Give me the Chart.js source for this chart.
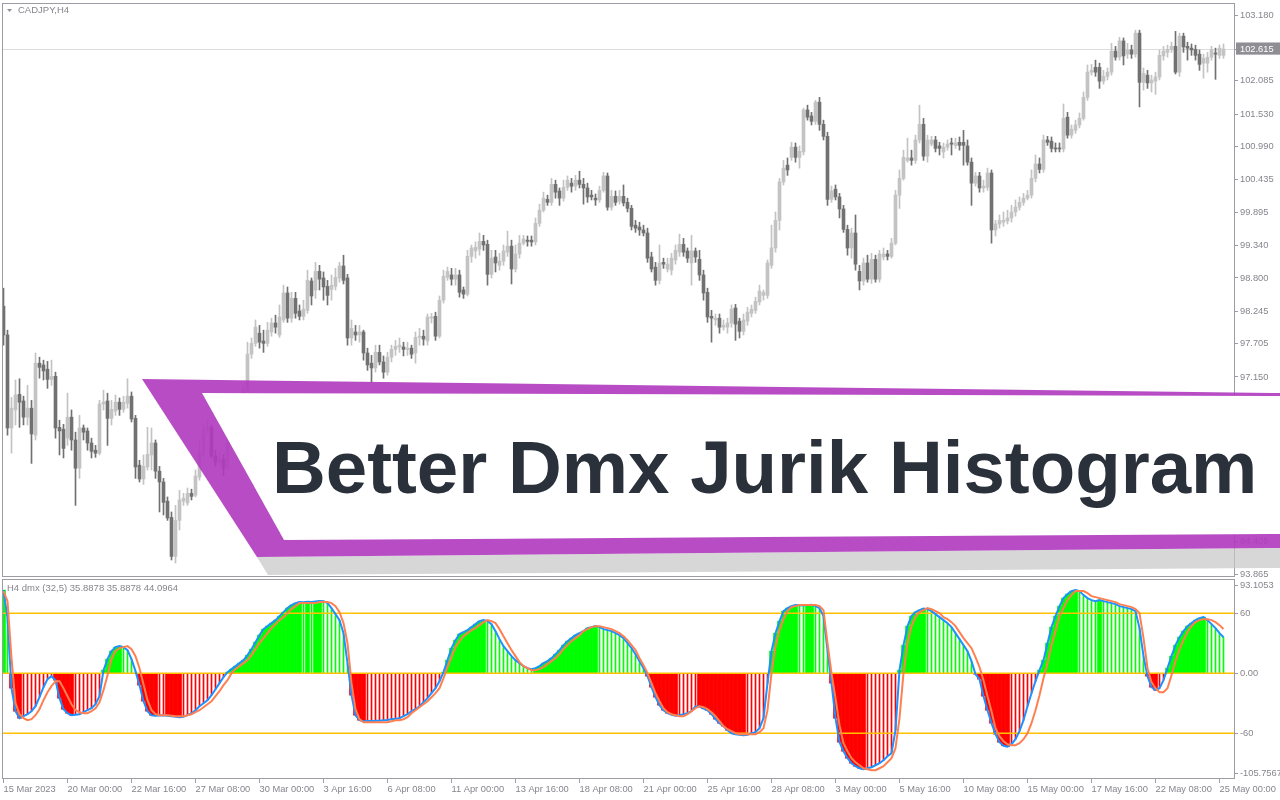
<!DOCTYPE html>
<html><head><meta charset="utf-8">
<script src="https://cdn.jsdelivr.net/npm/chart.js@4.4.1/dist/chart.umd.min.js"></script>
<style>
html,body{margin:0;padding:0;background:#fff;width:1280px;height:800px;overflow:hidden;font-family:"Liberation Sans",Arial,sans-serif;}
canvas{position:absolute;left:0;}
#c1{top:0;}
#c2{top:578px;}
.frame{position:absolute;border:1px solid #9c9ca4;box-sizing:border-box;pointer-events:none;}
#f1{left:2px;top:3px;width:1233px;height:574px;}
#f2{left:2px;top:579px;width:1233px;height:200px;}
#banner{position:absolute;left:0;top:0;pointer-events:none;}
#title{position:absolute;left:272px;top:431px;font:bold 74.5px/74.5px "Liberation Sans",Arial,sans-serif;color:#2b313b;white-space:nowrap;}
.lbl{position:absolute;font-size:9.5px;color:#85858d;white-space:nowrap;line-height:12px;}
</style></head>
<body>
<canvas id="c1" width="1280" height="578"></canvas>
<canvas id="c2" width="1280" height="222"></canvas>
<div class="frame" id="f1"></div>
<div class="frame" id="f2"></div>
<svg id="banner" width="1280" height="800">
  <polygon points="7,9 12,9 9.5,12" fill="#909098"/>
  <polygon points="257,557 1280,548 1280,568 268,575" fill="rgba(200,200,200,0.72)"/>
  <polygon points="142,379 1280,393 1280,548 257,557" fill="rgba(176,58,190,0.91)"/>
  <polygon points="202,393 1280,396 1280,534 284,540" fill="#ffffff"/>
</svg>
<div class="lbl" style="left:18px;top:4px;">CADJPY,H4</div>
<div class="lbl" style="left:7px;top:582px;">H4 dmx (32,5) 35.8878 35.8878 44.0964</div>
<div id="title">Better Dmx Jurik Histogram</div>
<script>
// ---------- DATA (CADJPY H4, 306 bars) ----------
const opens = [98.33,97.85,96.30,96.60,96.86,96.75,96.48,96.63,96.18,97.38,
97.35,97.28,97.11,97.16,96.31,96.28,96.13,96.48,96.10,95.63,
96.30,96.25,96.05,95.93,95.88,96.70,96.75,96.46,96.58,96.73,
96.61,96.71,96.83,96.46,95.68,95.45,95.65,95.85,96.05,95.58,
95.40,95.08,94.81,94.16,94.76,95.08,95.05,95.21,95.18,95.48,
95.88,96.26,96.31,95.83,95.73,95.78,95.63,96.01,96.26,96.46,
96.40,96.93,97.53,97.71,97.88,97.75,97.71,97.90,98.05,97.85,
98.10,98.55,98.13,98.46,98.25,98.16,98.26,98.75,98.60,98.91,
98.80,98.66,98.61,98.66,98.80,99.00,98.80,97.80,97.90,97.85,
97.90,97.55,97.38,97.30,97.56,97.40,97.23,97.48,97.61,97.65,
97.65,97.61,97.63,97.55,97.81,97.83,97.75,98.13,98.16,97.83,
98.43,98.81,98.85,98.78,98.85,98.60,98.53,99.16,99.25,99.28,
99.41,99.36,98.86,99.15,99.01,99.08,99.23,99.33,98.95,99.20,
99.38,99.43,99.43,99.40,99.71,99.93,100.11,100.06,100.36,100.25,
100.13,100.31,100.38,100.33,100.43,100.36,100.30,100.18,100.13,100.10,
100.26,100.50,99.98,100.16,100.08,100.16,100.06,99.96,99.68,99.65,
99.60,99.55,99.15,98.98,98.76,99.06,98.95,98.93,99.10,99.23,
99.36,99.25,99.05,99.25,99.11,98.85,98.56,98.16,98.10,98.13,
97.98,97.98,98.05,98.30,98.08,97.91,98.08,98.21,98.26,98.40,
98.51,98.51,99.01,99.30,99.76,100.40,100.68,100.81,100.98,100.81,
100.90,101.60,101.50,101.41,101.73,101.36,101.16,100.11,100.28,100.15,
99.95,99.61,99.30,99.55,98.91,98.75,99.05,98.78,99.11,98.78,
99.15,99.20,99.16,99.38,100.18,100.46,100.76,100.80,100.76,101.10,
101.36,100.83,101.03,101.10,101.00,100.90,100.98,101.05,101.01,101.06,
101.06,101.00,100.73,100.38,100.50,100.30,100.31,100.55,99.60,99.70,
99.73,99.75,99.80,99.90,99.98,100.06,100.13,100.18,100.46,100.70,
100.61,101.10,101.08,100.96,100.96,100.95,101.48,101.18,101.26,101.35,
101.46,101.81,102.23,102.31,102.31,102.08,102.16,102.23,102.58,102.48,
102.75,102.53,102.60,102.53,102.88,102.06,102.18,102.05,102.08,102.15,
102.50,102.56,102.61,102.66,102.23,102.83,102.66,102.63,102.61,102.53,
102.38,102.38,102.48,102.55,102.51,102.51];
const highs = [98.63,97.93,96.81,97.10,97.12,96.83,97.01,96.76,97.55,97.48,
97.43,97.41,97.43,97.23,96.43,96.36,96.88,96.60,96.23,96.51,
96.35,96.30,96.13,96.01,96.76,96.93,96.88,96.76,96.85,96.80,
96.83,97.12,96.90,96.51,95.76,95.85,96.31,96.30,96.10,95.66,
95.46,95.15,94.90,95.01,95.26,95.21,95.30,95.28,95.60,96.10,
96.35,96.43,96.35,95.93,95.90,95.85,96.26,96.35,96.60,96.63,
97.01,97.73,97.80,98.10,98.01,97.93,98.06,98.13,98.18,98.35,
98.68,98.65,98.56,98.56,98.35,98.43,98.93,98.80,99.06,99.01,
98.90,98.76,98.85,98.96,99.06,99.18,98.86,98.10,98.01,98.01,
97.93,97.63,97.51,97.68,97.68,97.50,97.56,97.68,97.76,97.80,
97.73,97.73,97.68,97.90,97.96,97.93,98.20,98.21,98.23,98.50,
98.93,98.98,98.96,98.96,98.93,98.65,99.26,99.35,99.40,99.55,
99.51,99.43,99.26,99.26,99.21,99.35,99.58,99.43,99.35,99.51,
99.51,99.50,99.50,99.80,100.03,100.23,100.18,100.46,100.43,100.30,
100.43,100.50,100.46,100.51,100.58,100.46,100.38,100.26,100.20,100.33,
100.56,100.55,100.26,100.25,100.26,100.35,100.13,100.01,99.76,99.73,
99.68,99.63,99.23,99.06,99.35,99.13,99.13,99.21,99.35,99.53,
99.46,99.30,99.51,99.30,99.26,98.93,98.63,98.26,98.20,98.20,
98.10,98.13,98.35,98.36,98.13,98.20,98.31,98.35,98.48,98.68,
98.60,99.10,99.68,99.90,100.46,100.76,100.80,101.06,101.05,101.00,
101.63,101.68,101.56,101.76,101.81,101.43,101.23,100.33,100.35,100.21,
100.01,99.68,99.63,99.85,99.01,99.13,99.18,99.21,99.18,99.26,
99.30,99.26,99.46,100.26,100.60,100.93,101.13,100.93,101.18,101.68,
101.46,101.18,101.16,101.16,101.06,101.05,101.10,101.13,101.13,101.15,
101.26,101.10,100.80,100.56,100.56,100.43,100.63,100.60,99.76,99.85,
99.90,99.93,100.01,100.10,100.15,100.21,100.26,100.60,100.85,100.80,
101.18,101.16,101.15,101.05,101.05,101.70,101.56,101.35,101.43,101.55,
101.90,102.35,102.36,102.43,102.38,102.26,102.30,102.71,102.66,102.81,
102.80,102.71,102.68,102.93,102.93,102.30,102.26,102.18,102.23,102.60,
102.66,102.68,102.73,102.91,102.88,102.88,102.73,102.70,102.68,102.60,
102.53,102.56,102.66,102.63,102.68,102.70];
const lows = [97.68,96.18,95.88,96.35,96.31,96.35,96.35,95.71,96.10,97.13,
97.10,96.96,97.01,96.13,95.85,95.80,96.01,95.93,95.01,95.46,
96.10,95.93,95.80,95.81,95.85,96.60,96.01,96.35,96.51,96.51,
96.56,96.63,96.40,95.46,95.40,95.36,95.60,95.60,95.46,94.90,
94.85,94.76,94.10,94.05,94.60,95.01,95.01,95.10,95.15,95.43,
95.83,96.21,95.80,95.66,95.68,95.51,95.60,95.93,96.18,96.30,
96.35,96.90,97.46,97.66,97.63,97.56,97.66,97.83,97.88,97.81,
98.06,98.06,98.06,98.13,98.10,98.10,98.21,98.35,98.46,98.60,
98.43,98.35,98.43,98.60,98.73,98.70,97.68,97.68,97.76,97.73,
97.43,97.26,97.06,97.23,97.35,97.13,97.18,97.40,97.51,97.56,
97.50,97.51,97.46,97.38,97.68,97.68,97.68,98.05,97.76,97.80,
98.38,98.76,98.68,98.68,98.48,98.46,98.50,99.06,99.13,99.18,
99.26,98.68,98.80,98.90,98.93,99.01,99.16,98.70,98.90,99.13,
99.35,99.33,99.33,99.35,99.66,99.90,100.01,100.01,100.13,100.01,
100.08,100.26,100.23,100.26,100.30,100.03,100.06,100.10,100.01,100.06,
100.23,99.93,99.93,100.01,100.03,100.00,99.90,99.60,99.56,99.51,
99.50,99.06,98.90,98.68,98.70,98.96,98.90,98.85,99.03,99.16,
99.16,99.06,98.68,99.06,98.76,98.43,98.06,97.73,98.01,97.88,
97.93,97.88,97.98,97.76,97.80,97.85,98.01,98.15,98.21,98.35,
98.43,98.46,98.96,99.23,99.60,100.35,100.51,100.76,100.73,100.63,
100.85,101.43,101.35,101.36,101.26,101.10,100.01,100.06,100.10,99.80,
99.56,99.18,99.13,98.93,98.60,98.68,98.73,98.71,98.73,98.73,
99.10,99.10,99.13,99.35,99.96,100.43,100.73,100.68,100.71,101.05,
100.76,100.73,101.00,100.90,100.85,100.80,100.93,100.85,100.96,100.93,
100.68,100.68,100.01,100.33,100.23,100.23,100.26,99.38,99.50,99.63,
99.66,99.70,99.73,99.83,99.93,100.01,100.10,100.13,100.40,100.55,
100.56,101.01,100.90,100.90,100.90,100.90,101.13,101.13,101.21,101.30,
101.43,101.76,102.18,102.16,101.96,102.03,102.10,102.18,102.43,102.43,
102.35,102.46,102.46,102.48,101.65,101.93,101.96,101.90,101.86,102.10,
102.43,102.48,102.56,102.20,102.16,102.56,102.43,102.51,102.43,102.26,
102.13,102.23,102.43,102.11,102.46,102.46];
const closes = [97.85,96.30,96.63,96.85,96.73,96.48,96.63,96.20,97.38,97.31,
97.25,97.11,97.16,96.30,96.25,95.96,96.48,96.10,95.63,96.30,
96.23,96.05,95.91,95.88,96.70,96.73,96.46,96.61,96.73,96.61,
96.73,96.83,96.45,95.65,95.45,95.66,95.86,96.05,95.58,95.40,
95.06,94.80,94.16,94.76,95.10,95.13,95.21,95.16,95.50,95.88,
96.26,96.31,95.83,95.73,95.80,95.63,96.05,96.26,96.46,96.40,
96.93,97.53,97.71,97.98,97.73,97.71,97.93,98.05,97.98,98.15,
98.55,98.13,98.46,98.21,98.16,98.28,98.76,98.50,98.91,98.78,
98.65,98.51,98.68,98.81,99.00,98.76,97.80,97.96,97.85,97.90,
97.55,97.35,97.30,97.56,97.40,97.23,97.48,97.61,97.66,97.68,
97.61,97.63,97.53,97.81,97.83,97.78,98.15,98.15,97.83,98.43,
98.83,98.91,98.78,98.85,98.56,98.53,99.16,99.30,99.31,99.41,
99.35,98.86,99.13,99.05,99.08,99.25,99.33,98.95,99.20,99.38,
99.45,99.41,99.40,99.71,99.93,100.13,100.06,100.36,100.23,100.13,
100.31,100.43,100.33,100.43,100.36,100.30,100.15,100.15,100.10,100.26,
100.50,99.98,100.16,100.06,100.16,100.05,99.96,99.66,99.63,99.60,
99.55,99.13,98.95,98.76,99.05,99.03,99.03,99.13,99.26,99.36,
99.23,99.13,99.25,99.15,98.85,98.55,98.15,98.13,98.13,97.98,
98.01,98.05,98.28,98.03,97.91,98.10,98.23,98.28,98.41,98.58,
98.56,99.05,99.30,99.76,100.40,100.63,100.60,100.98,100.81,100.91,
101.60,101.48,101.41,101.73,101.36,101.16,100.11,100.25,100.15,99.95,
99.61,99.30,99.55,99.03,98.75,99.05,98.78,99.11,98.78,99.20,
99.20,99.16,99.38,100.18,100.46,100.81,100.80,100.76,101.10,101.36,
100.83,101.10,101.10,100.96,100.96,100.98,101.03,101.03,101.05,101.01,
101.01,100.73,100.38,100.50,100.30,100.33,100.55,99.60,99.70,99.76,
99.76,99.80,99.90,99.98,100.06,100.13,100.18,100.46,100.70,100.61,
101.10,101.06,100.96,100.95,100.95,101.46,101.18,101.28,101.35,101.46,
101.81,102.23,102.26,102.23,102.08,102.16,102.23,102.58,102.48,102.75,
102.50,102.60,102.53,102.88,102.06,102.21,102.05,102.10,102.15,102.51,
102.58,102.61,102.66,102.23,102.83,102.65,102.63,102.60,102.51,102.36,
102.46,102.48,102.60,102.53,102.63,102.615];
const currentPrice = 102.615;
const priceTickVals = [103.180,102.615,102.085,101.530,100.990,100.435,99.895,99.340,98.800,98.245,97.705,97.150,96.610,96.055,95.515,94.960,94.405,93.865];

// Better Dmx Jurik indicator (32,5): dmx value / histogram and its signal line
const dmx = [83,55,-15,-38,-45,-43,-41,-38,-33,-24,
-14,-6,-3,-7,-25,-36,-40,-42,-41.5,-41,
-39,-37,-35,-31,-23,3,14,22,26,27,
26,23,14,2,-12,-28,-38,-42,-42.5,-42.3,
-42.1,-42.5,-43,-43.5,-44,-43.5,-42,-40,-37,-33,
-30,-27,-22,-16,-10,-4,1,4,7,10,
13,18,24,31,38,44,47,50,53,57,
61,65,68,70,71,70.8,71.3,71.1,71.6,72,
71.9,70,65,59,53,40,10,-22,-42,-47,
-48,-47.8,-47.7,-47.6,-47.5,-47,-46.8,-46,-45.5,-45,
-43,-41,-38,-36,-33,-29,-25,-20,-15,-8,
1,13,25,33,39,41,43,46,49,52,
53,52,49,42,34,27,22,17,13,10,
7,5,4,5,7,10,12,15,19,23,
28,32,35,38,40,42,45,46,47,46,
44,43,42,40,38,35,30,25,19,12,
5,-3,-14,-24,-32,-37,-40,-41.5,-42.5,-42,
-41,-40,-38,-33,-33.5,-35.5,-37,-41,-46,-50,
-53,-57,-60,-61,-61.5,-62,-61.5,-60,-59,-55,
-45,-10,22,40,52,62,65,67,68,67.8,
67.6,68,68.3,67,65,57,23,-10,-45,-69,
-78,-85,-90,-93,-95,-96,-95,-94,-92,-90,
-87,-83,-80,-57,3,28,47,57,61,63,
64.5,64,62,59,56,53,50,46,40,34,
28,22,12,-1,-6,-23,-37,-50,-61,-69,
-72.5,-73.5,-71,-66,-58,-47,-33,-20,-8,3,
13,30,46,57,67,75,79,82,83,82,
78,75,73,72,73,72,71,70,69,67,
66,65,64,62,45,17,-3,-14,-17,-15,
-7,5,17,28,36,42,47,50,53,55,
56,53,49,45,40,35.8878];
const signal = [82,72,15,-30,-41,-45,-47,-46,-42,-36,
-27,-19,-13,-8,-8,-15,-23,-31,-37,-39,
-40,-40,-38,-35,-29,-17,-2,14,22,25,
26,27,24,17,5,-11,-27,-37,-41,-42,
-42,-42,-42.5,-43,-43,-43,-42,-41,-39,-37,
-34,-31,-28,-23,-18,-12,-7,0,4,7,
10,13,18,24,30,35,40,45,49,53,
56,60,64,67,70,70,70,70,70,71,
71,71,70,67,61,50,30,-10,-36,-46,
-49,-49,-49,-49,-49,-49,-49,-48,-47,-47,
-46,-44,-40,-37,-34,-31,-28,-24,-20,-15,
-5,6,16,26,32,37,40,43,45,48,
51,53,52,50,44,37,30,23,17,11,
7,5,3,3,4,6,9,12,15,19,
24,28,32,35,38,42,44,46,47,47,
46,45,44,42,40,37,33,28,23,15,
8,0,-10,-20,-28,-35,-39,-41,-42,-43,
-43,-41,-38,-35,-33,-34,-36,-39,-43,-48,
-53,-56,-58,-60,-61,-61,-61,-61,-61,-59,
-55,-37,0,27,43,54,62,66,67,68,
68,68,68,68,67,63,30,0,-25,-52,
-70,-78,-85,-89,-92,-95,-96,-97,-97,-95,
-93,-89,-85,-75,-45,0,30,47,56,61,
63,65,64,62,60,56,54,51,47,41,
35,30,25,16,6,-7,-23,-38,-55,-63,
-68,-71,-72,-72,-70,-66,-60,-50,-37,-22,
-5,10,28,42,57,65,73,78,82,82,
82,80,77,76,75,74,73,72,71,69,
68,67,66,64,60,35,5,-9,-15,-19,
-19,-15,-2,12,24,33,41,47,51,53,
54,54,53,51,48,44.0964];
const indMin = -105.7567, indMax = 93.1053;
const levelVals = [60, 0, -60];
const indTickAnchors = [88, 60, 0, -60, -100];
const indTickLabels = ['93.1053', '60', '0.00', '-60', '-105.7567'];
const xTickIdx = [0,16,32,48,64,80,96,112,128,144,160,176,192,208,224,240,256,272,288,304];
const xTickLabels = ['15 Mar 2023','20 Mar 00:00','22 Mar 16:00','27 Mar 08:00','30 Mar 00:00','3 Apr 16:00','6 Apr 08:00','11 Apr 00:00','13 Apr 16:00','18 Apr 08:00','21 Apr 00:00','25 Apr 16:00','28 Apr 08:00','3 May 00:00','5 May 16:00','10 May 08:00','15 May 00:00','17 May 16:00','22 May 08:00','25 May 00:00'];

// ---------- STYLE ----------
const FONT = {family: '"Liberation Sans", Arial, sans-serif', size: 9.3};
const TXT = '#85858d', AX = '#9c9ca4';
const UP = '#c3c3c3', DOWN = '#717171';
const GREEN = '#00ff00', RED = '#ff0000', BLUE = '#1e90ff', ORANGE = '#ff7f50', GOLD = '#ffc000';
const xMin = -0.375, xMax = 307.625;
Chart.defaults.font.family = FONT.family;

// ---------- MAIN PRICE CHART ----------
const idx = closes.map((_, i) => i);
const candleCol = idx.map(i => closes[i] >= opens[i] ? UP : DOWN);
new Chart(document.getElementById('c1'), {
  data: {datasets: [
    {type: 'bar', data: idx.map(i => ({x: i, y: [lows[i], highs[i]]})), backgroundColor: candleCol, barThickness: 1, grouped: false, order: 2},
    {type: 'bar', data: idx.map(i => ({x: i, y: [opens[i], closes[i]]})), backgroundColor: candleCol, barThickness: 3, grouped: false, minBarLength: 1, order: 1}
  ]},
  options: {
    responsive: false, animation: false, events: [],
    layout: {padding: {left: 2, top: 4, bottom: 2, right: 0}},
    plugins: {legend: {display: false}, tooltip: {enabled: false}},
    scales: {
      x: {type: 'linear', min: xMin, max: xMax, offset: false, display: false},
      y: {
        type: 'linear', position: 'right', min: 93.833, max: 103.366,
        afterBuildTicks: s => { s.ticks = priceTickVals.map(v => ({value: v})); },
        afterFit: s => { s.width = 46; s.paddingTop = 0; s.paddingBottom = 0; },
        ticks: {
          font: FONT, padding: 2,
          color: c => (c.tick && c.tick.value === currentPrice) ? '#ffffff' : TXT,
          callback: v => v.toFixed(3),
          showLabelBackdrop: c => !!(c.tick && c.tick.value === currentPrice),
          backdropColor: '#8e8e94',
          backdropPadding: {top: 1, bottom: 0, left: 4, right: 10}
        },
        grid: {
          drawOnChartArea: true, tickLength: 4, tickColor: AX, lineWidth: 1,
          color: c => (c.tick && c.tick.value === currentPrice) ? '#dcdcdc' : 'rgba(0,0,0,0)'
        },
        border: {display: false}
      }
    }
  }
});

// ---------- INDICATOR PANEL ----------
const thick = [], thin = [], colThick = [], colThin = [];
dmx.forEach((v, i) => {
  const p = i ? dmx[i - 1] : null;
  const grow = p === null || Math.sign(v) !== Math.sign(p) || Math.abs(v) > Math.abs(p);
  const col = v >= 0 ? GREEN : RED;
  thick.push({x: i, y: grow ? v : null});
  thin.push({x: i, y: grow ? null : v});
  colThick.push(col); colThin.push(col);
});
const levelSets = levelVals.map(v => ({
  type: 'line', data: [{x: xMin, y: v}, {x: xMax, y: v}], borderColor: GOLD, borderWidth: 1.5,
  pointRadius: 0, tension: 0, order: 2
}));
new Chart(document.getElementById('c2'), {
  data: {datasets: [
    {type: 'bar', data: thick, backgroundColor: colThick, barThickness: 4, grouped: false, order: 3},
    {type: 'bar', data: thin, backgroundColor: colThin, barThickness: 1, grouped: false, order: 3},
    ...levelSets,
    {type: 'line', data: dmx.map((v, i) => ({x: i, y: v})), borderColor: BLUE, borderWidth: 2, pointRadius: 0, tension: 0, order: 1},
    {type: 'line', data: signal.map((v, i) => ({x: i, y: v})), borderColor: ORANGE, borderWidth: 2, pointRadius: 0, tension: 0, order: 0}
  ]},
  options: {
    responsive: false, animation: false, events: [],
    layout: {padding: {left: 2, top: 2, bottom: 0, right: 0}},
    plugins: {legend: {display: false}, tooltip: {enabled: false}},
    scales: {
      x: {
        type: 'linear', position: 'bottom', min: xMin, max: xMax, offset: false,
        afterBuildTicks: s => { s.ticks = xTickIdx.map(v => ({value: v})); },
        afterFit: s => { s.height = 21; s.paddingLeft = 0; s.paddingRight = 0; },
        ticks: {autoSkip: false, maxRotation: 0, minRotation: 0, align: 'start', padding: 1, font: FONT, color: TXT,
                callback: (v, i) => xTickLabels[i]},
        grid: {drawOnChartArea: false, offset: false, tickLength: 4, tickColor: AX},
        border: {display: false}
      },
      y: {
        type: 'linear', position: 'right', min: indMin, max: indMax,
        afterBuildTicks: s => { s.ticks = indTickAnchors.map(v => ({value: v})); },
        afterFit: s => { s.width = 46; s.paddingTop = 0; s.paddingBottom = 0; },
        ticks: {font: FONT, color: TXT, padding: 2, callback: (v, i) => indTickLabels[i]},
        grid: {drawOnChartArea: false, tickLength: 4, tickColor: AX},
        border: {display: false}
      }
    }
  }
});
</script>
</body></html>
